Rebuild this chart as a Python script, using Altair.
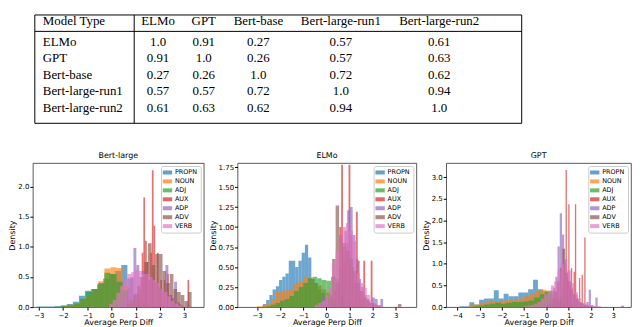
import altair as alt
import pandas as pd

# ---------------- table data ----------------
TABLE_HEADER = ["Model Type", "ELMo", "GPT", "Bert-base", "Bert-large-run1", "Bert-large-run2"]
ROW_NAMES = ["ELMo", "GPT", "Bert-base", "Bert-large-run1", "Bert-large-run2"]
ROW_ELMO = ["1.0", "0.91", "0.27", "0.57", "0.61"]
ROW_GPT = ["0.91", "1.0", "0.26", "0.57", "0.63"]
ROW_BBASE = ["0.27", "0.26", "1.0", "0.72", "0.62"]
ROW_RUN1 = ["0.57", "0.57", "0.72", "1.0", "0.94"]
ROW_RUN2 = ["0.61", "0.63", "0.62", "0.94", "1.0"]

# ---------------- histogram data (start, bin width, densities) ----------------
POS = ["PROPN", "NOUN", "ADJ", "AUX", "ADP", "ADV", "VERB"]
COLORS = ["#1f77b4", "#ff7f0e", "#2ca02c", "#d62728", "#9467bd", "#8c564b", "#e377c2"]

# Bert-large
BL_PROPN = (-3.1, 0.25, [0.01, 0.01, 0.01, 0.02, 0.03, 0.05, 0.09, 0.19, 0.27, 0.30, 0.38, 0.47, 0.55, 0.60, 0.70, 0.48, 0.22, 0.09, 0.04, 0.02])
BL_NOUN = (-2.05, 0.25, [0.02, 0.04, 0.07, 0.12, 0.20, 0.30, 0.43, 0.64, 0.66, 0.65, 0.35, 0.14, 0.05, 0.02])
BL_ADJ = (-2.05, 0.25, [0.02, 0.03, 0.06, 0.14, 0.25, 0.30, 0.40, 0.57, 0.55, 0.42, 0.28, 0.12, 0.05, 0.02])
BL_AUX = (1.1, 0.07, [0.15, 0.3, 0.9, 1.82, 1.1, 0.75, 0.0, 0.9, 2.27, 1.35, 0.0, 0.9, 0.3, 0.45, 0.0, 0.45, 0.0, 0.55, 0.0, 0.2, 0.0, 0.1, 0.0, 0.0, 0.05, 0.0, 0.0, 0.0, 0.0, 0.45])
BL_ADP = (0.3, 0.12, [0.05, 0.1, 0.2, 0.32, 0.5, 0.98, 0.7, 0.5, 0.6, 0.55, 0.45, 0.5, 0.4, 0.35, 0.3, 0.25, 0.7, 0.2, 0.15, 0.42, 0.08, 0.03])
BL_ADV = (0.6, 0.15, [0.05, 0.1, 0.2, 0.35, 0.5, 0.75, 1.06, 0.7, 0.88, 0.88, 0.6, 0.4, 0.55, 0.3, 0.25, 0.2, 0.1, 0.25])
BL_VERB = (-0.1, 0.15, [0.05, 0.12, 0.24, 0.35, 0.45, 0.55, 0.58, 0.62, 0.6, 0.55, 0.55, 0.5, 0.45, 0.4, 0.3, 0.25, 0.18, 0.1, 0.06, 0.03])

# ELMo
EL_PROPN = (-2.75, 0.14, [0.04, 0.09, 0.15, 0.22, 0.26, 0.34, 0.38, 0.42, 0.58, 0.58, 0.50, 0.58, 0.68, 0.78, 0.62, 0.35, 0.30, 0.22, 0.18, 0.15, 0.10, 0.08, 0.05, 0.03])
EL_NOUN = (-3.0, 0.2, [0.01, 0.02, 0.04, 0.10, 0.19, 0.20, 0.21, 0.22, 0.30, 0.32, 0.38, 0.37, 0.30, 0.27, 0.22, 0.18, 0.12, 0.07, 0.04, 0.02])
EL_ADJ = (-2.6, 0.2, [0.01, 0.03, 0.05, 0.08, 0.10, 0.14, 0.20, 0.25, 0.30, 0.36, 0.38, 0.36, 0.34, 0.33, 0.38, 0.30, 0.15, 0.07, 0.03])
EL_AUX = (0.4, 0.08, [0.0, 0.3, 1.0, 1.78, 0.6, 0.75, 0.8, 1.78, 0.9, 0.5, 0.3, 1.19, 0.58, 0.2, 0.1, 0.58, 0.0, 0.1, 0.0, 0.58, 0.05])
EL_ADP = (-0.3, 0.12, [0.05, 0.13, 0.13, 0.05, 0.1, 0.2, 0.35, 0.5, 0.75, 0.95, 1.21, 1.25, 0.9, 0.6, 0.35, 0.25, 0.15, 0.1, 0.05, 0.12, 0.1, 0.02, 0.1])
EL_ADV = (0.1, 0.15, [0.15, 0.6, 1.27, 0.9, 0.8, 0.7, 0.6, 0.45, 0.3, 0.2, 0.12, 0.08, 0.05, 0.03, 0.02, 0.0, 0.0, 0.0, 0.0, 0.0, 0.04])
EL_VERB = (-0.5, 0.15, [0.03, 0.05, 0.08, 0.15, 0.25, 0.54, 0.7, 0.9, 1.0, 1.05, 0.95, 0.82, 0.42, 0.3, 0.24, 0.15, 0.08, 0.04, 0.02])

# GPT
GP_PROPN = (-3.9, 0.22, [0.02, 0.02, 0.11, 0.06, 0.17, 0.2, 0.2, 0.39, 0.2, 0.31, 0.25, 0.25, 0.34, 0.34, 0.41, 0.63, 0.41, 0.36, 0.3, 0.15, 0.05, 0.02])
GP_NOUN = (-3.5, 0.25, [0.03, 0.06, 0.1, 0.13, 0.15, 0.13, 0.15, 0.16, 0.18, 0.2, 0.25, 0.3, 0.38, 0.4, 0.38, 0.2, 0.08, 0.03])
GP_ADJ = (-3.3, 0.25, [0.02, 0.04, 0.06, 0.08, 0.1, 0.08, 0.1, 0.12, 0.12, 0.13, 0.15, 0.22, 0.3, 0.36, 0.38, 0.2, 0.08, 0.03])
GP_AUX = (0.5, 0.06, [0.05, 0.1, 0.2, 0.4, 0.6, 1.1, 3.17, 0.7, 2.38, 0.5, 0.9, 0.0, 0.82, 2.38, 0.3, 0.0, 0.67, 0.1, 0.75, 0.0, 1.61, 0.05])
GP_ADP = (-0.1, 0.1, [0.05, 0.1, 0.15, 0.3, 0.45, 0.7, 1.4, 2.17, 1.68, 1.0, 0.8, 0.6, 0.45, 0.3, 0.2, 0.15, 0.1, 0.08, 0.05, 0.12, 0.4, 0.05, 0.02, 0.22])
GP_ADV = (0.0, 0.12, [0.05, 0.1, 0.2, 0.35, 0.6, 0.9, 1.35, 0.8, 0.6, 0.4, 0.3, 0.2, 0.12, 0.08, 0.05, 0.03, 0.02, 0.0, 0.0, 0.0, 0.0, 0.0, 0.0, 0.0, 0.0, 0.0, 0.0, 0.0, 0.03])
GP_VERB = (-1.0, 0.15, [0.02, 0.03, 0.05, 0.08, 0.12, 0.2, 0.3, 0.38, 0.5, 0.6, 0.85, 1.0, 1.1, 0.85, 0.55, 0.35, 0.2, 0.1, 0.08, 0.05, 0.03, 0.02, 0.02])


def hist_frame(series):
    rows = []
    for pos, (start, width, heights) in zip(POS, series):
        for i, h in enumerate(heights):
            if h > 0:
                rows.append({"pos": pos, "x0": start + i * width, "x1": start + (i + 1) * width, "h": h, "y0": 0.0})
    return pd.DataFrame(rows)


bl_df = hist_frame([BL_PROPN, BL_NOUN, BL_ADJ, BL_AUX, BL_ADP, BL_ADV, BL_VERB])
el_df = hist_frame([EL_PROPN, EL_NOUN, EL_ADJ, EL_AUX, EL_ADP, EL_ADV, EL_VERB])
gp_df = hist_frame([GP_PROPN, GP_NOUN, GP_ADJ, GP_AUX, GP_ADP, GP_ADV, GP_VERB])

# ---------------- table chart ----------------
cells = []
for ci, name in enumerate(TABLE_HEADER):
    cells.append({"ci": ci, "ri": 0, "txt": name})
for ri, (name, vals) in enumerate(zip(ROW_NAMES, [ROW_ELMO, ROW_GPT, ROW_BBASE, ROW_RUN1, ROW_RUN2]), start=1):
    cells.append({"ci": 0, "ri": ri, "txt": name})
    for ci, v in enumerate(vals, start=1):
        cells.append({"ci": ci, "ri": ri, "txt": v})
cells_df = pd.DataFrame(cells)

xs = alt.Scale(domain=[-0.5, 0, 0.5, 1, 2, 3, 4, 5, 5.5],
               range=[2, 10, 102, 126, 172, 227, 310, 409, 492], nice=False, zero=False)
ys = alt.Scale(domain=[-0.5, 0, 0.5, 1, 5, 5.5],
               range=[5, 11.5, 21.5, 32, 98.5, 114], nice=False, zero=False)

one = pd.DataFrame({"k": [0]})

txt_style = dict(font="Liberation Serif", fontSize=13, fontWeight="normal", baseline="middle", color="black")
first_col = alt.Chart(cells_df).transform_filter("datum.ci == 0").mark_text(align="left", **txt_style).encode(
    x=alt.X("ci:Q", scale=xs, axis=None), y=alt.Y("ri:Q", scale=ys, axis=None), text="txt:N")
other_cols = alt.Chart(cells_df).transform_filter("datum.ci > 0").mark_text(align="center", **txt_style).encode(
    x=alt.X("ci:Q", scale=xs, axis=None), y=alt.Y("ri:Q", scale=ys, axis=None), text="txt:N")
box = alt.Chart(one).mark_rect(fillOpacity=0, stroke="black", strokeWidth=1).encode(
    x=alt.X(datum=-0.5, scale=xs, axis=None), x2=alt.X2(datum=5.5),
    y=alt.Y(datum=-0.5, scale=ys, axis=None), y2=alt.Y2(datum=5.5))
hline = alt.Chart(one).mark_rule(color="black", strokeWidth=1).encode(
    x=alt.X(datum=-0.5, scale=xs, axis=None), x2=alt.X2(datum=5.5),
    y=alt.Y(datum=0.5, scale=ys, axis=None))
vline = alt.Chart(one).mark_rule(color="black", strokeWidth=1).encode(
    x=alt.X(datum=0.5, scale=xs, axis=None),
    y=alt.Y(datum=-0.5, scale=ys, axis=None), y2=alt.Y2(datum=5.5))

table = alt.layer(box, hline, vline, first_col, other_cols).properties(
    width=495, height=116, view=alt.ViewBackground(stroke="transparent"))


# ---------------- histogram panels ----------------
def panel(df, title, xdom, ydom, xticks, yticks, yfmt, w):
    return alt.Chart(df).mark_rect(opacity=0.65, clip=True, strokeWidth=0).encode(
        x=alt.X("x0:Q", scale=alt.Scale(domain=xdom, nice=False, zero=False),
                axis=alt.Axis(values=xticks, format="d", title="Average Perp Diff")),
        x2="x1:Q",
        y=alt.Y("h:Q", scale=alt.Scale(domain=ydom, nice=False, zero=False),
                axis=alt.Axis(values=yticks, format=yfmt, title="Density")),
        y2="y0:Q",
        color=alt.Color("pos:N", sort=POS, scale=alt.Scale(domain=POS, range=COLORS),
                        legend=alt.Legend(title=None, orient="top-right", offset=3, padding=3,
                                          fillColor="white", strokeColor="#cccccc", cornerRadius=2,
                                          labelFontSize=6.5, labelFont="DejaVu Sans", labelColor="black",
                                          symbolType="M-1.4,-0.6H1.4V0.6H-1.4Z", symbolSize=45,
                                          symbolStrokeWidth=0, symbolOpacity=0.7, rowPadding=2,
                                          labelOffset=4)),
    ).properties(width=w, height=145,
                 title=alt.TitleParams(title, fontSize=8, fontWeight="normal", font="DejaVu Sans",
                                       color="black", offset=3))


p1 = panel(bl_df, "Bert-large", [-3.25, 3.8], [0, 2.39], [-3, -2, -1, 0, 1, 2, 3],
           [0, 0.5, 1.0, 1.5, 2.0], ".1f", 172)
p2 = panel(el_df, "ELMo", [-3.85, 3.9], [0, 1.80], [-3, -2, -1, 0, 1, 2, 3],
           [0, 0.25, 0.5, 0.75, 1.0, 1.25, 1.5, 1.75], ".2f", 180)
p3 = panel(gp_df, "GPT", [-4.5, 3.8], [0, 3.33], [-4, -3, -2, -1, 0, 1, 2, 3],
           [0, 0.5, 1.0, 1.5, 2.0, 2.5, 3.0], ".1f", 186)

panels = alt.hconcat(p1, p2, p3, spacing=4).resolve_scale(color="independent")

chart = alt.vconcat(table, panels, spacing=25).properties(padding=0).configure_view(
    stroke="#333333", strokeWidth=0.8
).configure_axis(
    labelFontSize=7, titleFontSize=8, labelFont="DejaVu Sans", titleFont="DejaVu Sans",
    titleFontWeight="normal", tickSize=3, labelPadding=1, titlePadding=1, domain=False, grid=False,
    tickColor="#000000", labelColor="#000000", titleColor="#000000"
)

chart.save("out.html", embed_options={"renderer": "svg", "actions": False})
